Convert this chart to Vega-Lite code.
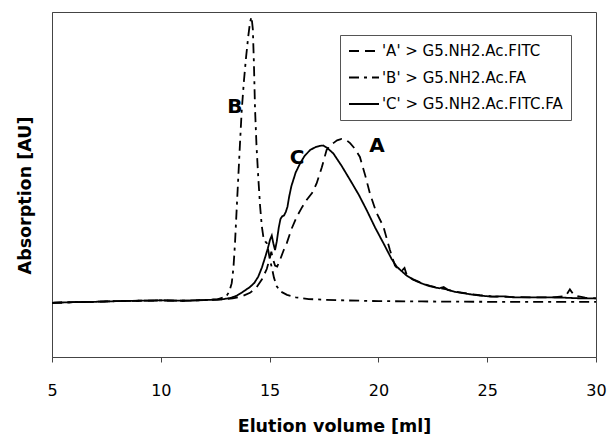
{
  "$schema": "https://vega.github.io/schema/vega-lite/v6.json",
  "width": 544,
  "height": 345,
  "autosize": {"type": "none"},
  "padding": {"left": 52, "top": 12, "right": 11, "bottom": 80},
  "background": "white",
  "config": {"view": {"stroke": "#444", "strokeWidth": 1}, "font": "DejaVu Sans"},
  "datasets": {
    "curves": [
      {"s":"B","x":5,"y":15.7},{"s":"B","x":6,"y":15.9},{"s":"B","x":7,"y":16.0},{"s":"B","x":8,"y":16.2},{"s":"B","x":9,"y":16.3},{"s":"B","x":10,"y":16.4},{"s":"B","x":11,"y":16.3},{"s":"B","x":12,"y":16.5},{"s":"B","x":12.6,"y":16.7},{"s":"B","x":13.0,"y":17.5},{"s":"B","x":13.15,"y":19},{"s":"B","x":13.26,"y":21.4},{"s":"B","x":13.34,"y":26},{"s":"B","x":13.41,"y":33},{"s":"B","x":13.48,"y":42},{"s":"B","x":13.56,"y":52},{"s":"B","x":13.64,"y":62},{"s":"B","x":13.72,"y":71.6},{"s":"B","x":13.82,"y":80},{"s":"B","x":13.92,"y":87},{"s":"B","x":14.02,"y":93},{"s":"B","x":14.1,"y":97},{"s":"B","x":14.17,"y":98.6},{"s":"B","x":14.23,"y":95},{"s":"B","x":14.28,"y":85},{"s":"B","x":14.33,"y":72},{"s":"B","x":14.4,"y":61},{"s":"B","x":14.48,"y":52},{"s":"B","x":14.56,"y":44},{"s":"B","x":14.64,"y":38},{"s":"B","x":14.72,"y":34.5},{"s":"B","x":14.8,"y":33.5},{"s":"B","x":14.87,"y":33},{"s":"B","x":14.95,"y":30.5},{"s":"B","x":15.02,"y":28},{"s":"B","x":15.1,"y":26},{"s":"B","x":15.2,"y":23},{"s":"B","x":15.33,"y":20.5},{"s":"B","x":15.5,"y":19},{"s":"B","x":15.8,"y":18},{"s":"B","x":16.2,"y":17.3},{"s":"B","x":16.8,"y":16.8},{"s":"B","x":17.5,"y":16.6},{"s":"B","x":18.5,"y":16.4},{"s":"B","x":20,"y":16.2},{"s":"B","x":22,"y":16.1},{"s":"B","x":25,"y":16.0},{"s":"B","x":28,"y":16.0},{"s":"B","x":30,"y":16.0},

      {"s":"C","x":5,"y":15.7},{"s":"C","x":6,"y":15.9},{"s":"C","x":7,"y":16.0},{"s":"C","x":8,"y":16.2},{"s":"C","x":9,"y":16.3},{"s":"C","x":10,"y":16.4},{"s":"C","x":11,"y":16.3},{"s":"C","x":12,"y":16.5},{"s":"C","x":12.8,"y":16.7},{"s":"C","x":13.2,"y":17.1},{"s":"C","x":13.5,"y":17.8},{"s":"C","x":13.8,"y":19.0},{"s":"C","x":14.1,"y":20.3},{"s":"C","x":14.3,"y":21.5},{"s":"C","x":14.48,"y":23.3},{"s":"C","x":14.65,"y":26},{"s":"C","x":14.8,"y":29},{"s":"C","x":14.92,"y":31.5},{"s":"C","x":15.02,"y":34},{"s":"C","x":15.1,"y":35.2},{"s":"C","x":15.17,"y":33},{"s":"C","x":15.25,"y":31},{"s":"C","x":15.33,"y":33.5},{"s":"C","x":15.42,"y":37.5},{"s":"C","x":15.5,"y":40},{"s":"C","x":15.58,"y":40.8},{"s":"C","x":15.66,"y":41},{"s":"C","x":15.74,"y":42},{"s":"C","x":15.82,"y":43.5},{"s":"C","x":15.9,"y":46.5},{"s":"C","x":16.0,"y":49.5},{"s":"C","x":16.2,"y":53.5},{"s":"C","x":16.4,"y":56.1},{"s":"C","x":16.6,"y":58.2},{"s":"C","x":16.86,"y":60},{"s":"C","x":17.1,"y":60.8},{"s":"C","x":17.3,"y":61.2},{"s":"C","x":17.47,"y":61.3},{"s":"C","x":17.65,"y":60.6},{"s":"C","x":17.93,"y":59},{"s":"C","x":18.3,"y":55.5},{"s":"C","x":18.7,"y":51.3},{"s":"C","x":19.1,"y":47},{"s":"C","x":19.46,"y":42.6},{"s":"C","x":19.85,"y":37.5},{"s":"C","x":20.23,"y":33},{"s":"C","x":20.6,"y":28.5},{"s":"C","x":20.84,"y":26.2},{"s":"C","x":21.05,"y":25},{"s":"C","x":21.3,"y":23.6},{"s":"C","x":21.6,"y":22.4},{"s":"C","x":22.0,"y":21.3},{"s":"C","x":22.37,"y":20.5},{"s":"C","x":22.8,"y":19.9},{"s":"C","x":23.0,"y":20.3},{"s":"C","x":23.2,"y":19.4},{"s":"C","x":23.5,"y":18.9},{"s":"C","x":23.9,"y":18.5},{"s":"C","x":24.3,"y":18.1},{"s":"C","x":24.67,"y":17.8},{"s":"C","x":25.2,"y":17.5},{"s":"C","x":25.8,"y":17.6},{"s":"C","x":26.2,"y":17.3},{"s":"C","x":27,"y":17.3},{"s":"C","x":27.7,"y":17.3},{"s":"C","x":28.5,"y":17.2},{"s":"C","x":29.3,"y":17.0},{"s":"C","x":30,"y":17.0},

      {"s":"A","x":5,"y":15.7},{"s":"A","x":6,"y":15.9},{"s":"A","x":7,"y":16.0},{"s":"A","x":8,"y":16.2},{"s":"A","x":9,"y":16.3},{"s":"A","x":10,"y":16.4},{"s":"A","x":11,"y":16.3},{"s":"A","x":12,"y":16.5},{"s":"A","x":12.8,"y":16.7},{"s":"A","x":13.3,"y":17.0},{"s":"A","x":13.7,"y":17.5},{"s":"A","x":14.1,"y":18.6},{"s":"A","x":14.4,"y":20.2},{"s":"A","x":14.65,"y":22.5},{"s":"A","x":14.87,"y":25.5},{"s":"A","x":15.0,"y":28.5},{"s":"A","x":15.08,"y":30.5},{"s":"A","x":15.15,"y":28.5},{"s":"A","x":15.25,"y":26.5},{"s":"A","x":15.35,"y":26.2},{"s":"A","x":15.5,"y":28.5},{"s":"A","x":15.65,"y":31},{"s":"A","x":15.79,"y":33},{"s":"A","x":16.0,"y":37},{"s":"A","x":16.25,"y":40.7},{"s":"A","x":16.5,"y":43.5},{"s":"A","x":16.7,"y":45.5},{"s":"A","x":16.95,"y":47.5},{"s":"A","x":17.16,"y":50.3},{"s":"A","x":17.4,"y":55},{"s":"A","x":17.62,"y":60},{"s":"A","x":17.8,"y":61.5},{"s":"A","x":17.93,"y":62},{"s":"A","x":18.1,"y":62.8},{"s":"A","x":18.31,"y":63.2},{"s":"A","x":18.5,"y":63},{"s":"A","x":18.7,"y":62},{"s":"A","x":18.9,"y":60.5},{"s":"A","x":19.15,"y":58},{"s":"A","x":19.4,"y":52.5},{"s":"A","x":19.61,"y":47.4},{"s":"A","x":19.9,"y":42},{"s":"A","x":20.23,"y":37.8},{"s":"A","x":20.53,"y":31},{"s":"A","x":20.76,"y":26.5},{"s":"A","x":20.95,"y":25.2},{"s":"A","x":21.1,"y":25.2},{"s":"A","x":21.2,"y":25.8},{"s":"A","x":21.3,"y":23.8},{"s":"A","x":21.6,"y":22.5},{"s":"A","x":22.0,"y":21.4},{"s":"A","x":22.37,"y":20.6},{"s":"A","x":22.8,"y":20.0},{"s":"A","x":23.14,"y":19.6},{"s":"A","x":23.5,"y":19.0},{"s":"A","x":23.9,"y":18.6},{"s":"A","x":24.3,"y":18.2},{"s":"A","x":24.67,"y":17.9},{"s":"A","x":25.2,"y":17.6},{"s":"A","x":26,"y":17.4},{"s":"A","x":27,"y":17.3},{"s":"A","x":28,"y":17.3},{"s":"A","x":28.6,"y":17.6},{"s":"A","x":28.8,"y":19.6},{"s":"A","x":29.0,"y":17.8},{"s":"A","x":29.5,"y":17.2},{"s":"A","x":30,"y":17.0}
    ],
    "labels": [
      {"lab":"B","x":13.4,"y":72.5},
      {"lab":"C","x":16.26,"y":57.7},
      {"lab":"A","x":19.94,"y":61.2}
    ]
  },
  "layer": [
    {
      "data": {"name": "curves"},
      "mark": {"type": "line", "color": "black", "strokeWidth": 1.8},
      "encoding": {
        "x": {
          "field": "x", "type": "quantitative",
          "scale": {"domain": [5, 30], "nice": false, "zero": false},
          "axis": {
            "values": [5, 10, 15, 20, 25, 30],
            "format": "d",
            "title": "Elution volume [ml]",
            "titleFontSize": 17.5, "titleFontWeight": "bold", "titleColor": "black", "titleFont": "DejaVu Sans",
            "titlePadding": 19, "titleX": 282,
            "labelFontSize": 16, "labelColor": "black", "labelFont": "DejaVu Sans",
            "labelPadding": 20, "labelFlush": false,
            "tickSize": 5, "tickColor": "#444", "domainColor": "#444", "grid": false
          }
        },
        "y": {
          "field": "y", "type": "quantitative",
          "scale": {"domain": [0, 100], "nice": false},
          "axis": {
            "title": "Absorption [AU]",
            "titleFontSize": 17.5, "titleFontWeight": "bold", "titleColor": "black", "titleFont": "DejaVu Sans",
            "titlePadding": 18, "titleY": 183,
            "labels": false, "ticks": false, "grid": false, "domainColor": "#444"
          }
        },
        "strokeDash": {
          "field": "s", "type": "nominal",
          "scale": {"domain": ["A", "B", "C"], "range": [[10, 6], [10, 5, 3, 5], [1, 0]]},
          "legend": {
            "title": null,
            "orient": "none",
            "legendX": 288,
            "legendY": 23,
            "direction": "vertical",
            "symbolType": "stroke",
            "symbolSize": 900,
            "symbolStrokeWidth": 1.8,
            "symbolStrokeColor": "black",
            "labelFontSize": 15,
            "labelFont": "DejaVu Sans",
            "labelColor": "black",
            "labelOffset": 2,
            "labelLimit": 400,
            "labelExpr": "datum.value == 'A' ? \"'A' > G5.NH2.Ac.FITC\" : datum.value == 'B' ? \"'B' > G5.NH2.Ac.FA\" : \"'C' > G5.NH2.Ac.FITC.FA\"",
            "strokeColor": "#555",
            "fillColor": "white",
            "padding": 8,
            "clipHeight": 16,
            "rowPadding": 10.5
          }
        }
      }
    },
    {
      "data": {"name": "labels"},
      "mark": {"type": "text", "fontSize": 20, "fontWeight": "bold", "font": "DejaVu Sans", "color": "black", "align": "center", "baseline": "middle"},
      "encoding": {
        "x": {"field": "x", "type": "quantitative"},
        "y": {"field": "y", "type": "quantitative"},
        "text": {"field": "lab"}
      }
    }
  ]
}
